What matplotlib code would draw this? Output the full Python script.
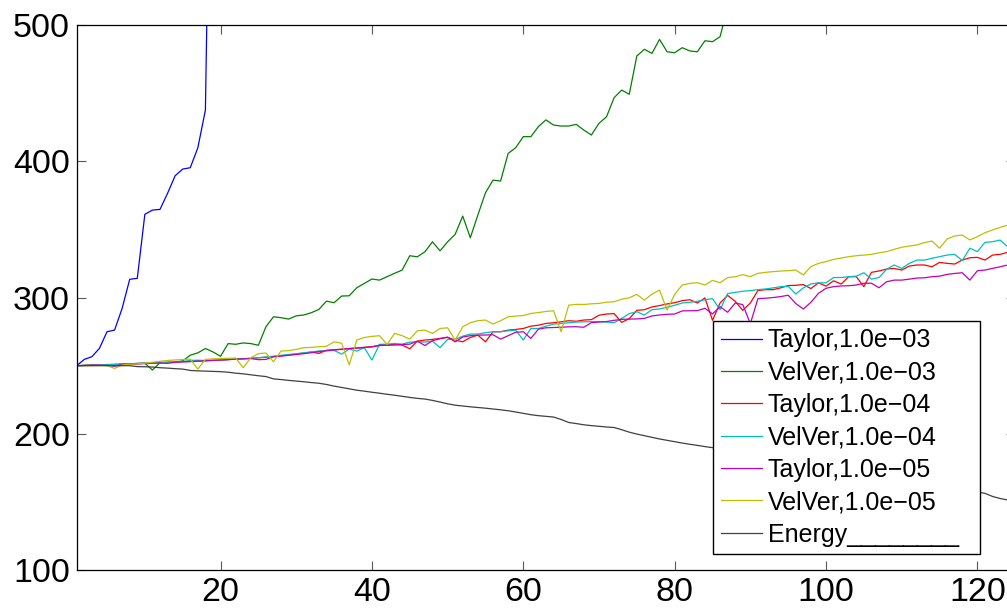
import numpy as np
import matplotlib
matplotlib.use("Agg")
import matplotlib.pyplot as plt

# values, one per time step (step 1, 2, 3, ...)
taylor_1e3 = [250.0, 254.6, 256.6, 262.7, 274.9, 276.1, 292.1, 313.4, 314.1, 361.1,
              364.2, 364.7, 376.5, 389.4, 394.3, 395.3, 409.9, 437.6, 785.0, 1300.0]

velver_1e3 = [250.0, 250.2, 250.4, 250.6, 250.8, 251.0, 251.2, 251.4, 251.6, 251.8,
              246.8, 252.2, 252.4, 252.6, 253.5, 257.7, 259.4, 262.6, 260.1, 256.9,
              266.2, 265.7, 266.7, 266.2, 265.0, 278.6, 285.9, 285.2, 284.2, 286.6,
              287.2, 288.9, 291.3, 297.4, 296.2, 301.1, 301.3, 307.2, 310.4, 313.6,
              312.8, 315.3, 317.8, 320.2, 330.7, 329.9, 333.6, 340.9, 334.3, 340.9,
              346.4, 359.8, 343.9, 360.6, 376.9, 386.2, 385.5, 405.8, 410.0, 418.1,
              418.1, 425.5, 430.4, 426.6, 425.9, 425.9, 427.1, 422.9, 419.3, 427.9,
              432.7, 446.7, 452.3, 449.2, 477.3, 482.2, 479.2, 489.5, 480.4, 479.7,
              483.4, 481.0, 480.4, 488.5, 487.8, 491.5, 513.0, 530.0, 545.0, 560.0]

taylor_1e4 = [250.0, 250.2, 250.4, 250.6, 250.8, 250.3, 251.2, 251.4, 251.6, 251.8,
              252.0, 252.2, 252.4, 252.6, 252.9, 253.1, 253.4, 253.6, 253.9, 254.2,
              254.5, 254.8, 255.1, 255.4, 255.8, 256.2, 256.6, 257.3, 257.9, 258.5,
              259.3, 260.0, 259.0, 261.3, 261.7, 262.1, 262.6, 263.0, 263.5, 263.9,
              264.7, 265.1, 265.8, 265.1, 262.4, 268.0, 268.8, 269.3, 270.0, 270.7,
              268.8, 267.5, 270.7, 272.4, 267.5, 274.9, 274.9, 276.1, 276.6, 277.3,
              279.0, 279.7, 281.0, 281.5, 282.2, 283.0, 282.6, 283.5, 283.8, 287.0,
              287.9, 288.2, 281.8, 284.5, 290.6, 291.1, 293.1, 294.1, 295.3, 296.2,
              297.7, 298.4, 296.0, 299.7, 283.3, 296.0, 301.6, 297.2, 290.6, 296.0,
              305.1, 305.8, 305.8, 307.1, 308.8, 309.0, 309.5, 306.6, 310.8, 308.4,
              312.3, 309.9, 315.3, 315.3, 308.0, 318.5, 319.5, 320.9, 321.4, 320.2,
              323.1, 323.9, 323.9, 322.6, 325.8, 325.1, 324.6, 327.5, 329.2, 329.5,
              327.5, 331.2, 331.7, 333.2, 334.0]

velver_1e4 = [250.0, 250.2, 250.4, 250.6, 250.8, 250.8, 251.2, 251.4, 251.6, 251.8,
              252.0, 252.2, 252.4, 252.6, 253.0, 253.9, 254.0, 253.8, 254.0, 254.2,
              254.5, 254.8, 255.1, 255.4, 255.8, 256.4, 257.0, 257.6, 258.2, 258.8,
              259.4, 260.0, 260.8, 261.0, 261.2, 258.5, 262.2, 260.7, 263.2, 254.1,
              265.6, 265.8, 266.3, 265.8, 267.3, 267.5, 267.3, 268.0, 263.2, 269.3,
              269.3, 271.7, 273.2, 273.2, 274.2, 274.9, 274.9, 275.6, 276.1, 268.8,
              277.3, 277.3, 279.0, 280.5, 281.0, 281.5, 282.0, 282.2, 282.3, 282.4,
              282.0, 281.6, 284.7, 288.2, 289.6, 287.2, 291.1, 291.6, 292.9, 294.3,
              296.0, 296.5, 297.2, 298.4, 299.2, 291.1, 302.9, 303.8, 304.6, 305.1,
              305.8, 306.3, 307.1, 308.0, 308.3, 302.6, 307.1, 310.0, 310.8, 310.8,
              314.7, 314.7, 315.3, 315.7, 318.2, 313.5, 314.7, 320.7, 323.9, 321.4,
              325.1, 327.5, 327.5, 328.8, 330.0, 331.2, 331.7, 327.1, 336.2, 333.7,
              340.5, 341.0, 342.2, 337.3, 338.0]

taylor_1e5 = [250.0, 250.1, 250.3, 250.4, 250.2, 249.6, 250.8, 251.0, 251.2, 251.5,
              251.8, 252.0, 251.7, 252.5, 252.8, 253.0, 253.3, 253.6, 253.9, 254.1,
              254.4, 254.8, 255.0, 255.2, 254.4, 254.6, 256.5, 257.0, 257.6, 258.2,
              258.8, 259.5, 260.3, 261.0, 261.5, 262.0, 262.5, 262.9, 263.3, 263.8,
              265.1, 265.0, 265.1, 265.5, 265.8, 268.0, 264.8, 268.3, 269.8, 271.0,
              267.5, 271.0, 272.0, 272.4, 272.5, 272.7, 269.5, 272.0, 274.5, 274.9,
              270.0, 276.8, 277.8, 278.0, 278.2, 278.5, 278.6, 278.2, 281.6, 282.0,
              282.4, 283.3, 284.0, 284.2, 284.3, 284.7, 286.5, 287.2, 287.7, 287.9,
              290.2, 290.3, 290.4, 292.1, 288.0, 293.3, 289.2, 296.0, 294.8, 280.8,
              299.2, 299.5, 300.0, 300.7, 301.7, 295.6, 291.6, 296.5, 303.1, 306.8,
              308.0, 308.5, 308.7, 309.2, 310.5, 310.5, 307.2, 311.6, 312.8, 312.8,
              313.5, 314.3, 314.5, 315.3, 315.7, 317.0, 317.7, 318.2, 312.8, 319.7,
              320.2, 321.4, 322.6, 323.9, 324.5]

velver_1e5 = [250.0, 250.0, 250.0, 250.2, 250.0, 248.0, 250.5, 251.0, 251.3, 251.8,
              252.5, 253.2, 253.8, 254.2, 254.5, 254.8, 247.5, 254.6, 255.0, 255.2,
              255.4, 255.6, 248.5, 255.8, 258.8, 259.3, 252.9, 260.8, 261.0, 262.0,
              263.2, 263.4, 263.9, 264.2, 267.5, 266.5, 250.5, 268.8, 270.7, 271.5,
              272.0, 265.6, 273.7, 272.0, 269.5, 275.6, 276.1, 273.7, 277.3, 277.8,
              268.8, 278.5, 281.5, 283.0, 283.5, 280.5, 283.0, 285.9, 286.4, 286.8,
              288.3, 289.0, 289.8, 290.3, 274.9, 294.4, 295.0, 294.9, 295.4, 295.7,
              296.6, 296.9, 298.8, 299.8, 302.3, 298.1, 302.5, 305.5, 290.8, 302.3,
              309.2, 310.4, 310.9, 309.2, 312.6, 310.9, 314.6, 315.3, 316.8, 315.3,
              317.8, 318.5, 319.0, 319.5, 319.7, 320.2, 316.6, 322.7, 325.1, 326.4,
              328.0, 329.0, 330.0, 330.7, 331.2, 331.7, 332.9, 333.7, 335.4, 336.9,
              337.8, 338.6, 340.3, 341.5, 336.2, 343.0, 345.2, 345.9, 342.3, 344.7,
              347.6, 349.6, 351.5, 353.2, 354.5]

energy = [250.0, 250.0, 250.0, 250.0, 250.0, 250.0, 250.0, 250.0, 249.3, 249.2,
          249.0, 248.5, 248.2, 247.8, 247.5, 246.5, 246.2, 246.0, 245.8, 245.6,
          245.2, 244.5, 244.0, 243.3, 242.6, 242.0, 240.3, 239.8, 239.2, 238.7,
          238.2, 237.6, 237.1, 236.2, 235.0, 234.0, 233.0, 232.0, 231.3, 230.5,
          229.8, 229.0, 228.3, 227.5, 226.7, 226.0, 225.5, 224.5, 223.3, 222.0,
          221.0, 220.4, 219.8, 219.3, 218.8, 218.2, 217.6, 216.9, 216.0, 215.0,
          214.0, 213.3, 212.8, 212.3, 210.5, 208.3, 207.5, 206.6, 206.0, 205.5,
          205.0, 204.6, 203.0, 201.2, 199.8, 198.6, 197.4, 196.2, 195.2, 194.2,
          193.2, 192.3, 191.5, 190.6, 189.8, 188.9, 188.0, 187.0, 186.0, 185.2,
          184.5, 183.5, 182.4, 181.3, 180.5, 179.7, 178.8, 177.6, 176.5, 175.7,
          175.0, 174.0, 172.8, 171.8, 171.0, 170.0, 169.0, 168.0, 167.2, 166.4,
          165.4, 164.3, 163.4, 162.6, 161.5, 160.5, 159.7, 159.0, 158.0, 157.2,
          156.3, 154.0, 152.5, 151.4, 150.8]

labels = ["Taylor,1.0e\u221203", "VelVer,1.0e\u221203",
          "Taylor,1.0e\u221204", "VelVer,1.0e\u221204",
          "Taylor,1.0e\u221205", "VelVer,1.0e\u221205",
          "Energy________  "]

x_ticks = [20, 40, 60, 80, 100, 120]
y_ticks = [100, 200, 300, 400, 500]

# old MATLAB line colour order
colors = ["#0000ff", "#008000", "#ff0000", "#00bfbf", "#bf00bf", "#bfbf00", "#404040"]


def main():
    plt.rcParams["font.family"] = ["Liberation Sans", "DejaVu Sans"]

    fig = plt.figure(figsize=(10.07, 6.13), dpi=100)
    # axes run a little past the right edge, like the cropped original
    ax = fig.add_axes([0.0762, 0.0701, 0.932, 0.889])

    series = [taylor_1e3, velver_1e3, taylor_1e4, velver_1e4,
              taylor_1e5, velver_1e5, energy]
    for values, label, color in zip(series, labels, colors):
        steps = np.arange(1, len(values) + 1)
        ax.plot(steps, values, color=color, linewidth=0.9, label=label)

    ax.set_xlim(1, 125)
    ax.set_ylim(100, 500)
    ax.set_xticks(x_ticks)
    ax.set_yticks(y_ticks)

    ax.tick_params(direction="in", top=True, right=True, length=6.5,
                   width=0.8, color="0.35", labelsize=24.5, pad=5)
    for spine in ax.spines.values():
        spine.set_linewidth(0.9)

    # legend box sits in the lower right, partly over the energy curve
    leg = ax.legend(loc="lower left", bbox_to_anchor=(0.7083, 0.0962),
                    bbox_transform=fig.transFigure,
                    fontsize=18, frameon=True, fancybox=False, framealpha=1,
                    edgecolor="black", borderpad=0.3, labelspacing=0.335,
                    handlelength=1.65, handletextpad=0.22, borderaxespad=0)
    leg.get_frame().set_linewidth(1.0)

    fig.savefig("out.png", dpi=100)


if __name__ == "__main__":
    main()
